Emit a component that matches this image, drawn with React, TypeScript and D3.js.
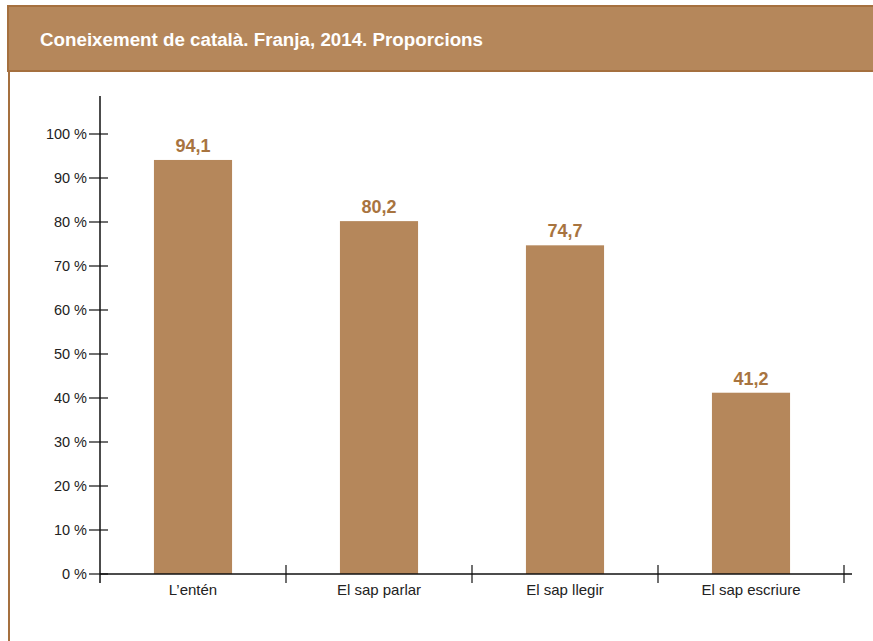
import React from 'react';
import * as d3 from 'd3';

const categories = ["L\u2019entén", 'El sap parlar', 'El sap llegir', 'El sap escriure'];
const values = [94.1, 80.2, 74.7, 41.2];
const yTicks = [0, 10, 20, 30, 40, 50, 60, 70, 80, 90, 100];

const W = 873;
const H = 641;
const brown = '#b5875b';
const font = '"Liberation Sans", Arial, sans-serif';

const App: React.FC = () => {
  const x = d3.scaleBand<string>().domain(categories).range([100, 844]).paddingInner(0.58).paddingOuter(0.29);
  const y = d3.scaleLinear().domain([0, 100]).range([574, 134]);
  const bounds = d3.range(categories.length + 1).map((i) => 100 + (i * 744) / categories.length);
  const fmt = (v: number) => v.toFixed(1).replace('.', ',');

  return (
    <svg width={W} height={H} style={{ position: 'absolute', left: 0, top: 0, background: '#fff' }}>
      <rect x={8} y={6} width={W} height={65} fill={brown} stroke="#a5703f" strokeWidth={2} />
      <line x1={9} y1={71} x2={9} y2={H} stroke="#a5703f" strokeWidth={2} />
      <text x={40} y={46} fill="#fff" fontFamily={font} fontSize={17.5} fontWeight="bold"
        textLength={443} lengthAdjust="spacingAndGlyphs">
        Coneixement de català. Franja, 2014. Proporcions
      </text>

      {categories.map((c, i) => (
        <g key={c}>
          <rect x={x(c)} y={y(values[i])} width={x.bandwidth()} height={y(0) - y(values[i])} fill={brown} />
          <text x={x(c)! + x.bandwidth() / 2} y={y(values[i]) - 8} textAnchor="middle" fill="#a8743f"
            fontFamily={font} fontSize={18} fontWeight="bold">{fmt(values[i])}</text>
          <text x={x(c)! + x.bandwidth() / 2} y={595} textAnchor="middle" fill="#222"
            fontFamily={font} fontSize={15}>{c}</text>
        </g>
      ))}

      <line x1={100} y1={96} x2={100} y2={583} stroke="#111" strokeWidth={1.5} />
      {yTicks.map((t) => (
        <g key={t}>
          <line x1={89} y1={y(t)} x2={108} y2={y(t)} stroke="#111" strokeWidth={1.2} />
          <text x={87} y={y(t) + 5} textAnchor="end" fill="#222" fontFamily={font} fontSize={14.5}>
            {`${t} %`}
          </text>
        </g>
      ))}

      <line x1={100} y1={574} x2={852} y2={574} stroke="#111" strokeWidth={1.5} />
      {bounds.slice(1).map((b) => (
        <line key={b} x1={b} y1={565} x2={b} y2={583} stroke="#111" strokeWidth={1.2} />
      ))}
    </svg>
  );
};

export default App;
